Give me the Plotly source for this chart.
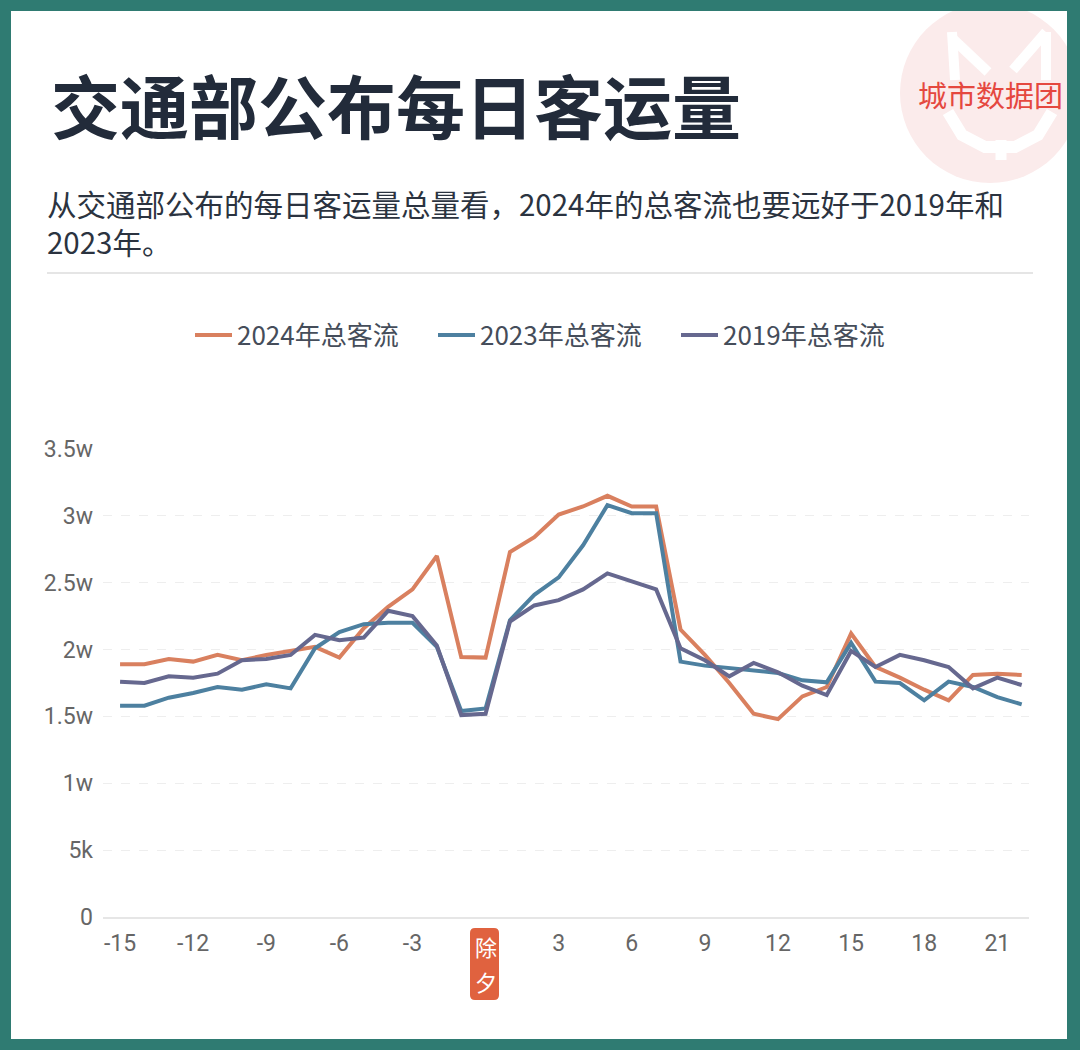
import plotly.graph_objects as go

# ---------------- data ----------------
days = list(range(-15, 23))
v2024 = [1.89, 1.89, 1.93, 1.91, 1.96, 1.92, 1.96, 1.99, 2.02, 1.94, 2.16, 2.32, 2.45, 2.70,
         1.945, 1.94, 2.73, 2.84, 3.01, 3.07, 3.15, 3.07, 3.07, 2.15, 1.96, 1.75, 1.52, 1.48,
         1.65, 1.72, 2.12, 1.87, 1.79, 1.70, 1.62, 1.81, 1.82, 1.81]
v2023 = [1.58, 1.58, 1.64, 1.675, 1.72, 1.70, 1.74, 1.71, 2.01, 2.13, 2.19, 2.20, 2.20, 2.02,
         1.54, 1.56, 2.22, 2.41, 2.54, 2.78, 3.08, 3.02, 3.02, 1.91, 1.88, 1.86, 1.84, 1.825,
         1.77, 1.755, 2.05, 1.76, 1.75, 1.62, 1.76, 1.72, 1.645, 1.59]
v2019 = [1.76, 1.75, 1.80, 1.79, 1.82, 1.92, 1.93, 1.96, 2.11, 2.07, 2.09, 2.29, 2.25, 2.03,
         1.51, 1.52, 2.21, 2.33, 2.37, 2.45, 2.57, 2.51, 2.45, 2.01, 1.92, 1.80, 1.90, 1.83,
         1.73, 1.66, 1.99, 1.87, 1.96, 1.92, 1.87, 1.71, 1.79, 1.735]
series_names = ["2024年总客流", "2023年总客流", "2019年总客流"]
series_colors = ["#D9805F", "#4D80A0", "#66688F"]
x_tickvals = [-15, -12, -9, -6, -3, 0, 3, 6, 9, 12, 15, 18, 21]
x_ticktext = ["-15", "-12", "-9", "-6", "-3", "", "3", "6", "9", "12", "15", "18", "21"]
y_tickvals = [0, 0.5, 1, 1.5, 2, 2.5, 3, 3.5]
y_ticktext = ["0", "5k", "1w", "1.5w", "2w", "2.5w", "3w", "3.5w"]
title_text = "交通部公布每日客运量"
subtitle_lines = ["从交通部公布的每日客运量总量看，2024年的总客流也要远好于2019年和", "2023年。"]
eve_label = ["除", "夕"]
brand = "城市数据团"

# ---------------- geometry helpers ----------------
W, H = 1080, 1050
L, R, T, B = 103, 51, 449, 133
PW, PH = W - L - R, H - T - B


def px(x):
    return (x - L) / PW


def py(y):
    return (H - B - y) / PH


CJK = "Noto Sans CJK SC"
TEAL = "#2F7B72"

fig = go.Figure()
for name, vals, col in zip(series_names, [v2024, v2023, v2019], series_colors):
    fig.add_trace(go.Scatter(x=days, y=vals, name=name, mode="lines",
                             line=dict(color=col, width=4)))

shapes = []
# white panel
shapes.append(dict(type="rect", xref="paper", yref="paper", x0=px(11), x1=px(1067),
                   y0=py(1039), y1=py(11), fillcolor="white", line=dict(width=0), layer="below"))
# logo circle
cx, cy, r = 990, 93, 90
shapes.append(dict(type="circle", xref="paper", yref="paper", x0=px(cx - r), x1=px(cx + r),
                   y0=py(cy + r), y1=py(cy - r), fillcolor="#FBEBEB", line=dict(width=0), layer="below"))


def seg(pts, width=10):
    d = "M " + " L ".join(f"{px(a)},{py(b)}" for a, b in pts)
    return dict(type="path", xref="paper", yref="paper", path=d,
                line=dict(color="white", width=width), layer="below")


shapes.append(seg([(952, 32), (955, 80)]))
shapes.append(seg([(952, 38), (988, 72)]))
shapes.append(seg([(1046, 32), (1013, 70)]))
shapes.append(seg([(1046, 32), (1046, 80)]))
shapes.append(seg([(948, 112), (962, 135), (985, 147), (1015, 147), (1038, 135), (1052, 112)], 12))
shapes.append(seg([(1001, 140), (1001, 160)], 11))
# separator
shapes.append(dict(type="line", xref="paper", yref="paper", x0=px(47), x1=px(1033),
                   y0=py(273), y1=py(273), line=dict(color="#DCDCDC", width=1.5), layer="below"))
# eve rounded box
x0b, x1b, y0b, y1b, rr = 470, 499, 928, 1000, 5
pth = (f"M {px(x0b + rr)},{py(y0b)} L {px(x1b - rr)},{py(y0b)} Q {px(x1b)},{py(y0b)} {px(x1b)},{py(y0b + rr)} "
       f"L {px(x1b)},{py(y1b - rr)} Q {px(x1b)},{py(y1b)} {px(x1b - rr)},{py(y1b)} "
       f"L {px(x0b + rr)},{py(y1b)} Q {px(x0b)},{py(y1b)} {px(x0b)},{py(y1b - rr)} "
       f"L {px(x0b)},{py(y0b + rr)} Q {px(x0b)},{py(y0b)} {px(x0b + rr)},{py(y0b)} Z")
shapes.append(dict(type="path", xref="paper", yref="paper", path=pth, fillcolor="#E0623F",
                   line=dict(width=0), layer="above"))
# teal border on top
for (a, b, c, d) in [(0, 0, 11, H), (0, 0, W, 11), (1067, 0, W, H), (0, 1039, W, H)]:
    shapes.append(dict(type="rect", xref="paper", yref="paper", x0=px(a), x1=px(c),
                       y0=py(d), y1=py(b), fillcolor=TEAL, line=dict(width=0), layer="above"))

ann = []
ann.append(dict(text=f"<b>{title_text}</b>", xref="paper", yref="paper", x=px(49), y=py(104),
                xanchor="left", yanchor="middle", showarrow=False,
                font=dict(family=CJK, size=69, color="#222B3A")))
ann.append(dict(text="<br>".join(subtitle_lines), xref="paper", yref="paper", x=px(45), y=py(222),
                xanchor="left", yanchor="middle", align="left", showarrow=False,
                font=dict(family=CJK, size=29.5, color="#2B3340")))
ann.append(dict(text=brand, xref="paper", yref="paper", x=px(990), y=py(94),
                xanchor="center", yanchor="middle", showarrow=False,
                font=dict(family=CJK, size=29, color="#E5483F")))
for ch, yy in zip(eve_label, [946, 981]):
    ann.append(dict(text=ch, xref="x", yref="paper", x=0, y=py(yy),
                    xanchor="center", yanchor="middle", showarrow=False,
                    font=dict(family=CJK, size=22, color="white")))

fig.update_layout(
    width=W, height=H,
    margin=dict(l=L, r=R, t=T, b=B, pad=0),
    paper_bgcolor=TEAL, plot_bgcolor="rgba(0,0,0,0)",
    font=dict(family=CJK, color="#666666"),
    shapes=shapes, annotations=ann,
    showlegend=True,
    legend=dict(orientation="h", x=px(190), y=py(335), xanchor="left", yanchor="middle",
                font=dict(family=CJK, size=26, color="#454D5A"), bgcolor="rgba(0,0,0,0)",
                itemwidth=37, entrywidth=191, entrywidthmode="pixels", traceorder="normal"),
    xaxis=dict(range=[-15.7, 22.3], tickvals=x_tickvals, ticktext=x_ticktext,
               showgrid=False, zeroline=False, showline=True, linecolor="#E6E6E6", linewidth=1.5,
               ticks="", ticklabelstandoff=5,
               tickfont=dict(family="Roboto", size=23, color="#666666")),
    yaxis=dict(range=[0, 3.5], tickvals=y_tickvals, ticktext=y_ticktext,
               showgrid=True, gridcolor="#EEEEEE", griddash="dash", gridwidth=1,
               zeroline=False, showline=False, ticks="", ticklabelstandoff=9,
               tickfont=dict(family="Roboto", size=23, color="#666666")),
)

fig.write_html("out.html", config={"displayModeBar": False},
               post_script="document.body.style.margin='0px';")
